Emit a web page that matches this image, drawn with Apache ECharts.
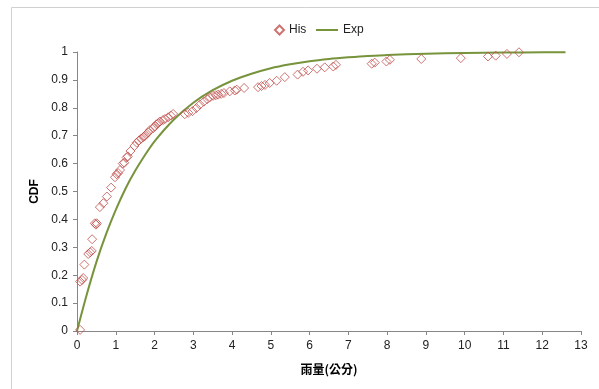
<!DOCTYPE html>
<html>
<head>
<meta charset="utf-8">
<script src="https://cdn.jsdelivr.net/npm/echarts@6/dist/echarts.min.js"></script>
<style>html,body{margin:0;padding:0;background:#fff}#c{width:599px;height:389px}</style>
</head>
<body>
<div id="c"></div>
<script>
// Observed (histogram-based) CDF points: [rainfall, CDF]
const hisX = [0.08,0.08,0.13,0.16,0.19,0.29,0.34,0.38,0.39,0.46,0.49,0.51,0.59,0.68,0.77,0.88,0.98,1.02,1.06,1.11,1.18,1.22,1.28,1.31,1.38,1.48,1.54,1.6,1.65,1.71,1.75,1.8,1.84,1.88,1.97,2.0,2.05,2.1,2.14,2.22,2.27,2.35,2.42,2.48,2.78,2.87,2.98,3.08,3.17,3.27,3.36,3.43,3.51,3.58,3.64,3.72,3.79,3.94,4.07,4.12,4.31,4.67,4.76,4.85,4.97,5.15,5.36,5.69,5.83,5.96,6.19,6.39,6.61,6.68,7.6,7.68,7.98,8.07,8.88,9.9,10.6,10.8,11.09,11.4];
const hisY = [0.004,0.177,0.183,0.19,0.238,0.276,0.282,0.287,0.329,0.386,0.381,0.386,0.444,0.458,0.482,0.514,0.551,0.562,0.566,0.577,0.6,0.603,0.622,0.626,0.645,0.663,0.675,0.683,0.689,0.695,0.699,0.707,0.712,0.72,0.727,0.733,0.741,0.745,0.751,0.756,0.76,0.766,0.772,0.778,0.777,0.782,0.788,0.799,0.811,0.822,0.831,0.838,0.843,0.845,0.847,0.85,0.853,0.859,0.862,0.865,0.871,0.874,0.878,0.882,0.889,0.897,0.91,0.919,0.929,0.934,0.94,0.945,0.948,0.954,0.958,0.962,0.966,0.972,0.975,0.978,0.984,0.987,0.993,0.999];
// Fitted exponential CDF
const expX = [0,0.25,0.5,0.75,1,1.25,1.5,1.75,2,2.5,3,3.5,4,4.5,5,5.5,6,6.5,7,7.5,8,9,10,11,12,12.6];
const expY = [0,0.13,0.247,0.347,0.434,0.51,0.574,0.63,0.68,0.758,0.818,0.863,0.897,0.922,0.942,0.956,0.967,0.975,0.981,0.986,0.989,0.994,0.9966,0.998,0.999,0.9992];
const xTicks = [0,1,2,3,4,5,6,7,8,9,10,11,12,13];
const yTicks = [0,0.1,0.2,0.3,0.4,0.5,0.6,0.7,0.8,0.9,1];

const hisData = hisX.map((x,i)=>[x,hisY[i]]);
const expData = expX.map((x,i)=>[x,expY[i]]);
const font = 'Liberation Sans, Arial, sans-serif';
const chart = echarts.init(document.getElementById('c'), null, {renderer:'canvas'});
chart.setOption({
  animation:false,
  backgroundColor:'#fff',
  textStyle:{fontFamily:font},
  graphic:[{type:'rect',shape:{x:11.5,y:7.5,width:700,height:500},style:{fill:'none',stroke:'#d0d0d0',lineWidth:1},silent:true}],
  legend:[
    {top:19,left:269,itemWidth:9,itemHeight:9,itemGap:6,
     textStyle:{fontSize:12,color:'#222',fontFamily:font},
     data:[{name:'His',icon:'diamond'}]},
    {top:19,left:311,itemWidth:22,itemHeight:2,
     textStyle:{fontSize:12,color:'#222',fontFamily:font},
     data:[{name:'Exp',icon:'rect',itemStyle:{color:'#77933C'}}]}
  ],
  grid:{left:77,right:18,top:52,bottom:58,containLabel:false},
  xAxis:{
    type:'value',min:0,max:13,interval:1,
    name:'雨量(公分)',nameLocation:'middle',nameGap:32,
    nameTextStyle:{fontFamily:'Noto Sans CJK TC',fontWeight:'bold',fontSize:12,color:'#000'},
    axisLine:{lineStyle:{color:'#868686',width:1}},
    axisTick:{show:true,length:4,lineStyle:{color:'#868686'}},
    axisLabel:{fontSize:12,color:'#222',margin:9,formatter:v=>xTicks.includes(v)?String(v):''},
    splitLine:{show:false}
  },
  yAxis:{
    type:'value',min:0,max:1,interval:0.1,
    name:'CDF',nameLocation:'middle',nameGap:35,nameRotate:90,
    nameTextStyle:{fontWeight:'bold',fontSize:12,color:'#000'},
    axisLine:{show:true,lineStyle:{color:'#868686',width:1}},
    axisTick:{show:true,length:4,lineStyle:{color:'#868686'}},
    axisLabel:{fontSize:12,color:'#222',margin:9,formatter:v=>{const t=yTicks.find(a=>Math.abs(a-v)<1e-9);return t===undefined?'':String(t);}},
    splitLine:{show:false}
  },
  series:[
    {name:'His',type:'scatter',data:hisData,symbol:'diamond',symbolSize:9,
     itemStyle:{color:'rgba(255,255,255,0)',borderColor:'#C0504D',borderWidth:1},z:3},
    {name:'Exp',type:'line',data:expData,smooth:0.3,symbol:'none',
     lineStyle:{color:'#77933C',width:2},itemStyle:{color:'#77933C'},z:2}
  ]
});
</script>
</body>
</html>
